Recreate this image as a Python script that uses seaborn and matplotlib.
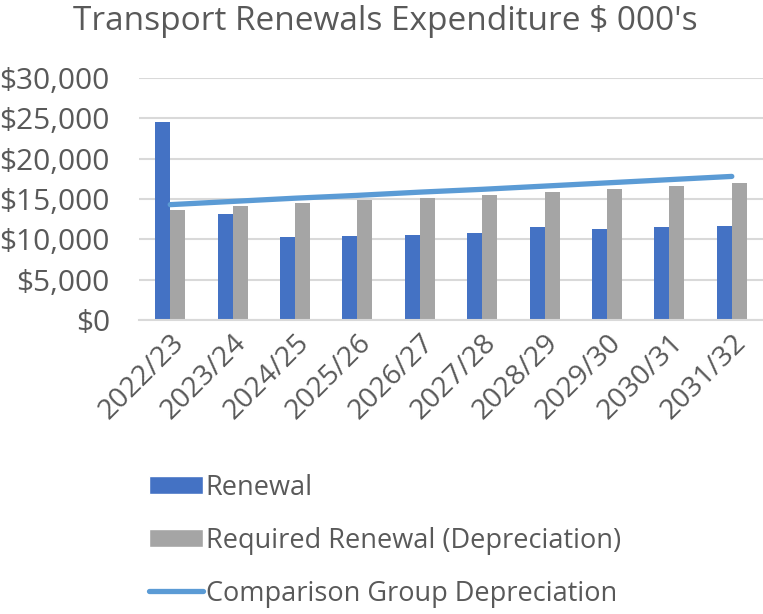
import numpy as np
import pandas as pd
import matplotlib
matplotlib.use("Agg")
import matplotlib.pyplot as plt
import seaborn as sns
from matplotlib.patches import Patch
from matplotlib.lines import Line2D

years = ["2022/23", "2023/24", "2024/25", "2025/26", "2026/27",
         "2027/28", "2028/29", "2029/30", "2030/31", "2031/32"]
renewal = [24500, 13100, 10300, 10450, 10500, 10800, 11550, 11250, 11500, 11650]
required = [13600, 14150, 14500, 14850, 15150, 15550, 15900, 16250, 16600, 16950]
comparison = [14300, 14700, 15100, 15450, 15850, 16200, 16600, 17000, 17400, 17800]

BLUE = "#4472C4"
GREY = "#A5A5A5"
LINE = "#5B9BD5"
TXT = "#595959"

sns.set_style("white")
plt.rcParams["font.family"] = ["Open Sans", "DejaVu Sans"]

df = pd.DataFrame({
    "year": years * 2,
    "value": renewal + required,
    "series": ["Renewal"] * len(years) + ["Required Renewal (Depreciation)"] * len(years),
})

fig = plt.figure(figsize=(7.63, 6.14), dpi=100)
ax = fig.add_axes([139 / 763, 1 - 320 / 614, 624 / 763, 242 / 614])

sns.barplot(data=df, x="year", y="value", hue="series", order=years,
            palette=[BLUE, GREY], saturation=1, width=0.48, gap=0,
            linewidth=0, legend=False, ax=ax)
ax.plot(np.arange(len(years)), comparison, color=LINE, lw=3.8,
        solid_capstyle="round", zorder=5)

ax.set_xlim(-0.5, len(years) - 0.5)
ax.set_ylim(0, 30000)
ax.set_yticks(np.arange(0, 30001, 5000))
ax.set_yticklabels([f"${v:,.0f}" for v in np.arange(0, 30001, 5000)])
ax.yaxis.grid(True, color="#D9D9D9", lw=1.5)
ax.set_axisbelow(True)
for s in ["top", "right", "left"]:
    ax.spines[s].set_visible(False)
ax.spines["bottom"].set_color("#D9D9D9")
ax.spines["bottom"].set_linewidth(1.5)
ax.set_xlabel("")
ax.set_ylabel("")
ax.tick_params(axis="y", length=0, pad=21, labelsize=21.5, labelcolor=TXT)
ax.tick_params(axis="x", length=0, pad=6, labelsize=20.5, labelcolor=TXT)
plt.setp(ax.get_xticklabels(), rotation=45, ha="right", rotation_mode="anchor")

fig.text(0.505, 0.965, "Transport Renewals Expenditure $ 000's", ha="center", va="center",
         fontsize=24, color=TXT)

handles = [Patch(facecolor=BLUE), Patch(facecolor=GREY),
           Line2D([0], [0], color=LINE, lw=3.8, solid_capstyle="round")]
labels = ["Renewal", "Required Renewal (Depreciation)", "Comparison Group Depreciation"]
fig.legend(handles, labels, loc="upper left", bbox_to_anchor=(138 / 763, 1 - 463 / 614),
           frameon=False, fontsize=19.5, labelcolor=TXT, handlelength=2.0,
           handleheight=0.65, handletextpad=0.1, labelspacing=0.92, borderaxespad=0)

fig.savefig("out.png", dpi=100)
